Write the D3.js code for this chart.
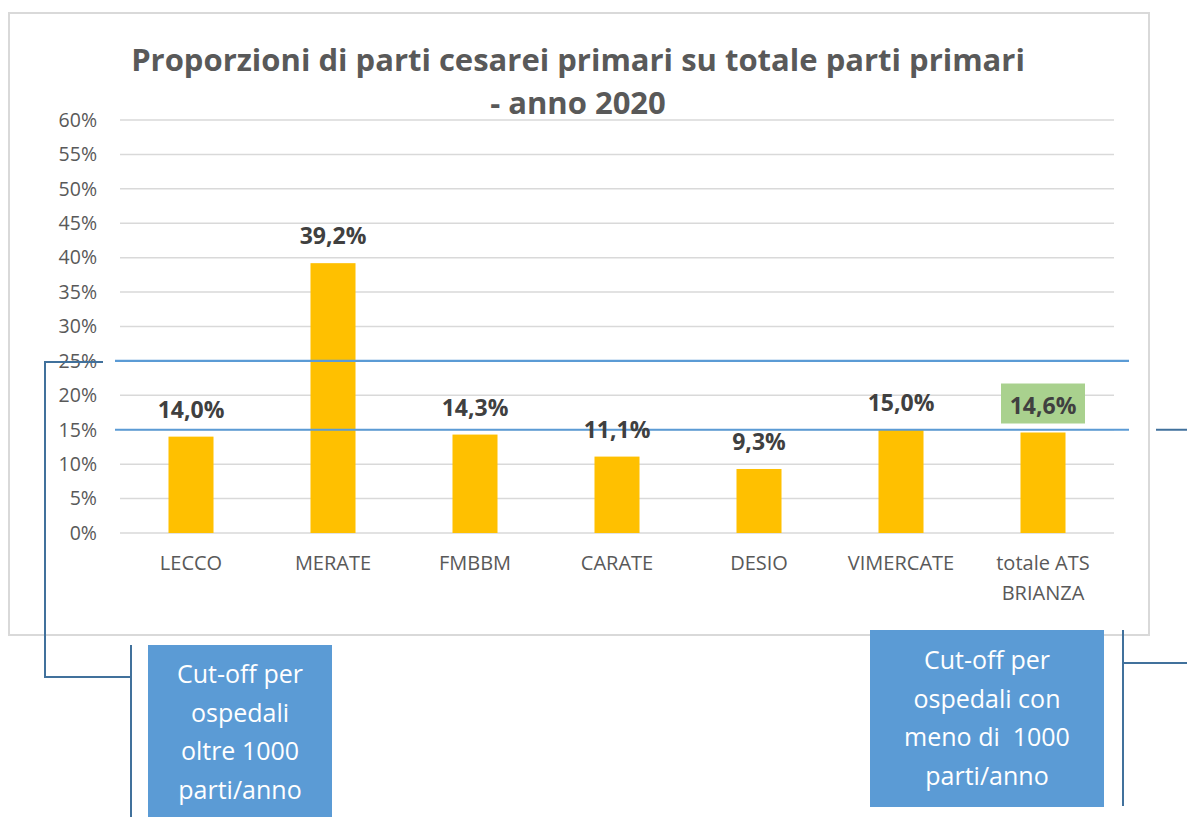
<!DOCTYPE html>
<html><head><meta charset="utf-8">
<script src="https://cdn.jsdelivr.net/npm/d3@7"></script>
<style>body{margin:0;background:#fff;}svg{display:block;font-family:"Open Sans",sans-serif;}</style>
</head><body>
<svg id="c" width="1187" height="817"></svg>
<script>
const categories = ["LECCO","MERATE","FMBBM","CARATE","DESIO","VIMERCATE","totale ATS BRIANZA"];
const values = [14.0, 39.2, 14.3, 11.1, 9.3, 15.0, 14.6];
const valueLabels = ["14,0%","39,2%","14,3%","11,1%","9,3%","15,0%","14,6%"];
const yTicks = [0,5,10,15,20,25,30,35,40,45,50,55,60];
const cutoffs = [25, 15];
const titleLines = ["Proporzioni di parti cesarei primari su totale parti primari","- anno 2020"];
const boxLeftLines = ["Cut-off per","ospedali","oltre 1000","parti/anno"];
const boxRightLines = ["Cut-off per","ospedali con","meno di  1000","parti/anno"];

const svg = d3.select("#c");
const plot = {left:120, right:1114, top:120, bottom:533};

// chart frame
svg.append("rect").attr("x",9).attr("y",13).attr("width",1140).attr("height",622)
  .attr("fill","#fff").attr("stroke","#D9D9D9").attr("stroke-width",2);

// title
svg.append("g").selectAll("text").data(titleLines).join("text")
  .attr("x",578).attr("y",(d,i)=>71+i*43).attr("text-anchor","middle")
  .attr("font-size",31).attr("font-weight","bold").attr("fill","#595959").text(d=>d);

const x = d3.scaleBand().domain(categories).range([plot.left,plot.right]).paddingInner(0.683).paddingOuter(0.3415);
const y = d3.scaleLinear().domain([0,60]).range([plot.bottom,plot.top]);

// gridlines
svg.append("g").selectAll("line").data(yTicks).join("line")
  .attr("x1",plot.left).attr("x2",plot.right).attr("y1",d=>y(d)).attr("y2",d=>y(d))
  .attr("stroke","#D9D9D9").attr("stroke-width",1.5);

// y axis
const yAxis = d3.axisLeft(y).tickValues(yTicks).tickFormat(d=>d+"%").tickSize(0).tickPadding(0);
const gy = svg.append("g").attr("transform","translate(97,0)").call(yAxis);
gy.select(".domain").remove();
gy.selectAll("text").attr("font-size",19.5).attr("fill","#595959").attr("font-family","Open Sans");

// bars
svg.append("g").selectAll("rect").data(values).join("rect")
  .attr("x",(d,i)=>x(categories[i])).attr("width",x.bandwidth())
  .attr("y",d=>y(d)).attr("height",d=>y(0)-y(d)).attr("fill","#FFC000");

// x labels
const gx = svg.append("g");
categories.forEach((c,i)=>{
  const cx = x(c)+x.bandwidth()/2;
  const lines = c==="totale ATS BRIANZA" ? ["totale ATS","BRIANZA"] : [c];
  lines.forEach((l,j)=>{
    gx.append("text").attr("x",cx).attr("y",570+j*30).attr("text-anchor","middle")
      .attr("font-size",20).attr("fill","#595959").text(l);
  });
});

// cutoff lines
svg.append("g").selectAll("line").data(cutoffs).join("line")
  .attr("x1",115).attr("x2",1129).attr("y1",d=>y(d)).attr("y2",d=>y(d))
  .attr("stroke","#5B9BD5").attr("stroke-width",2.2);

// value labels
const gl = svg.append("g");
values.forEach((v,i)=>{
  const cx = x(categories[i])+x.bandwidth()/2;
  const last = i===values.length-1;
  if(last){
    gl.append("rect").attr("x",cx-42).attr("y",y(v)-49).attr("width",84).attr("height",40).attr("fill","#A9D18E");
  }
  gl.append("text").attr("x",cx).attr("y",y(v)-19).attr("text-anchor","middle")
    .attr("font-size",23).attr("font-weight","bold").attr("fill","#404040").text(valueLabels[i]);
});

// connectors
const conn = "#41719C";
svg.append("path").attr("d",`M103,${y(25)+1}H45V677H131`).attr("fill","none").attr("stroke",conn).attr("stroke-width",2);
svg.append("line").attr("x1",131).attr("x2",131).attr("y1",645).attr("y2",817).attr("stroke",conn).attr("stroke-width",2);
svg.append("line").attr("x1",1156).attr("x2",1187).attr("y1",y(15)).attr("y2",y(15)).attr("stroke",conn).attr("stroke-width",2);
svg.append("path").attr("d","M1123,630V806M1123,663H1187").attr("fill","none").attr("stroke",conn).attr("stroke-width",2);

// boxes
function box(x0,y0,w,h,lines,firstY){
  svg.append("rect").attr("x",x0).attr("y",y0).attr("width",w).attr("height",h).attr("fill","#5B9BD5");
  svg.append("g").selectAll("text").data(lines).join("text")
    .attr("x",x0+w/2).attr("y",(d,i)=>firstY+i*38.5).attr("text-anchor","middle")
    .attr("font-size",25).attr("fill","#fff").attr("xml:space","preserve").style("white-space","pre").text(d=>d);
}
box(148,645,184,172,boxLeftLines,683);
box(870,630,234,177,boxRightLines,669);
</script>
</body></html>
